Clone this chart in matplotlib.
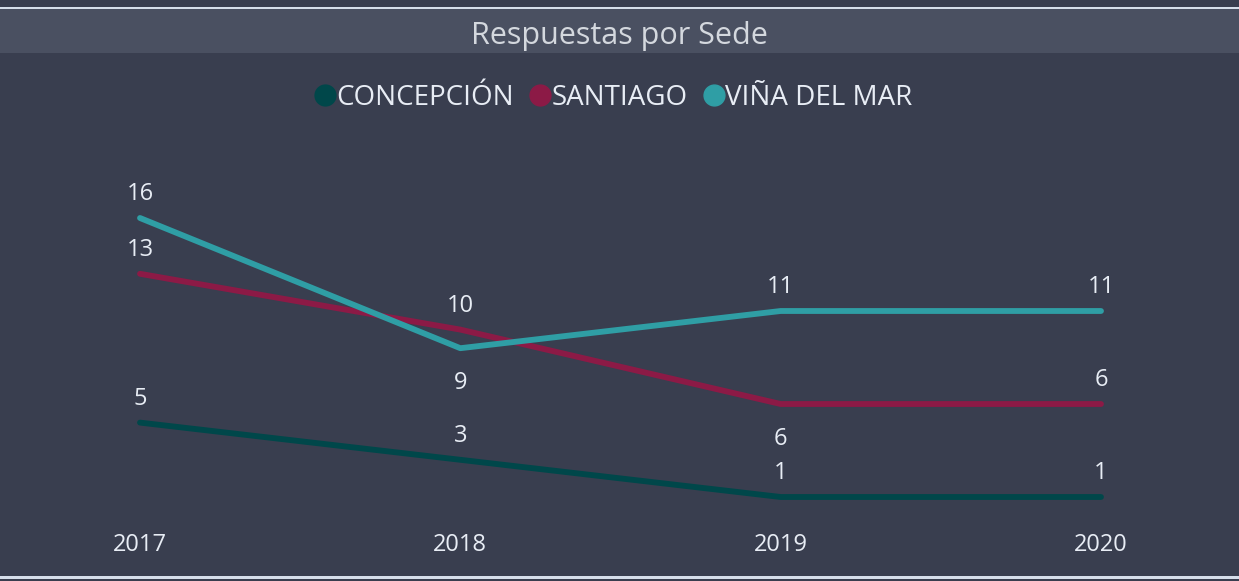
import matplotlib.pyplot as plt
from matplotlib.lines import Line2D
from matplotlib.patches import Rectangle
import matplotlib.transforms as mtransforms

# data
years = [2017, 2018, 2019, 2020]
concepcion = [5, 3, 1, 1]
santiago = [13, 10, 6, 6]
vina = [16, 9, 11, 11]
series_names = ['CONCEPCIÓN', 'SANTIAGO', 'VIÑA DEL MAR']
title = 'Respuestas por Sede'

colors = ['#00474a', '#8c1a46', '#2f9ea5']
bg = '#393e4f'
bar = '#4a5061'
txt = '#e8edf5'

# which labels sit below their point (to avoid overlaps)
below = {('VIÑA DEL MAR', 2018), ('SANTIAGO', 2019)}

plt.rcParams['font.family'] = ['Open Sans', 'DejaVu Sans']

W, H = 1239, 581
fig = plt.figure(figsize=(W / 100, H / 100), dpi=100, facecolor=bg)

# frame lines and title bar
fig.patches.append(Rectangle((0, 1 - 9 / H), 1, 2.2 / H, transform=fig.transFigure,
                             facecolor='#d6deea', edgecolor='none'))
fig.patches.append(Rectangle((0, 1 - 53 / H), 1, 44 / H, transform=fig.transFigure,
                             facecolor=bar, edgecolor='none'))
fig.patches.append(Rectangle((0, 2.5 / H), 1, 2.2 / H, transform=fig.transFigure,
                             facecolor='#d6deea', edgecolor='none'))
fig.text(0.5, 1 - 36 / H, title, ha='center', va='center', fontsize=22,
         color='#d4d8de')

ax = fig.add_axes([0, 0, 1, 1])
ax.set_facecolor('none')
ax.axis('off')
px_per_year = (1101 - 140) / 3
ax.set_xlim(2017 - 140 / px_per_year, 2017 + (W - 140) / px_per_year)
px_per_unit = 18.6
ax.set_ylim(16 - (H - 218) / px_per_unit, 16 + 218 / px_per_unit)

for name, vals, c in zip(series_names, [concepcion, santiago, vina], colors):
    ax.plot(years, vals, color=c, lw=4.2, solid_capstyle='round',
            solid_joinstyle='round')
    for x, v in zip(years, vals):
        off = -25 if (name, x) in below else 17
        ax.annotate(str(v), (x, v), xytext=(0, off), textcoords='offset points',
                    ha='center', va='center', fontsize=17, color=txt)

# year labels
trans = mtransforms.blended_transform_factory(ax.transData, fig.transFigure)
for x in years:
    ax.text(x, 1 - 545 / H, str(x), transform=trans, ha='center', va='center',
            fontsize=17, color=txt)

handles = [Line2D([], [], marker='o', linestyle='', markersize=15, color=c)
           for c in colors]
fig.legend(handles, series_names, loc='center', bbox_to_anchor=(615 / W, 1 - 98 / H),
           ncol=3, frameon=False, handlelength=0.55, handletextpad=0.15,
           columnspacing=0.65, labelcolor=txt, prop={'size': 20})

fig.savefig('out.png', dpi=100, facecolor=bg)
